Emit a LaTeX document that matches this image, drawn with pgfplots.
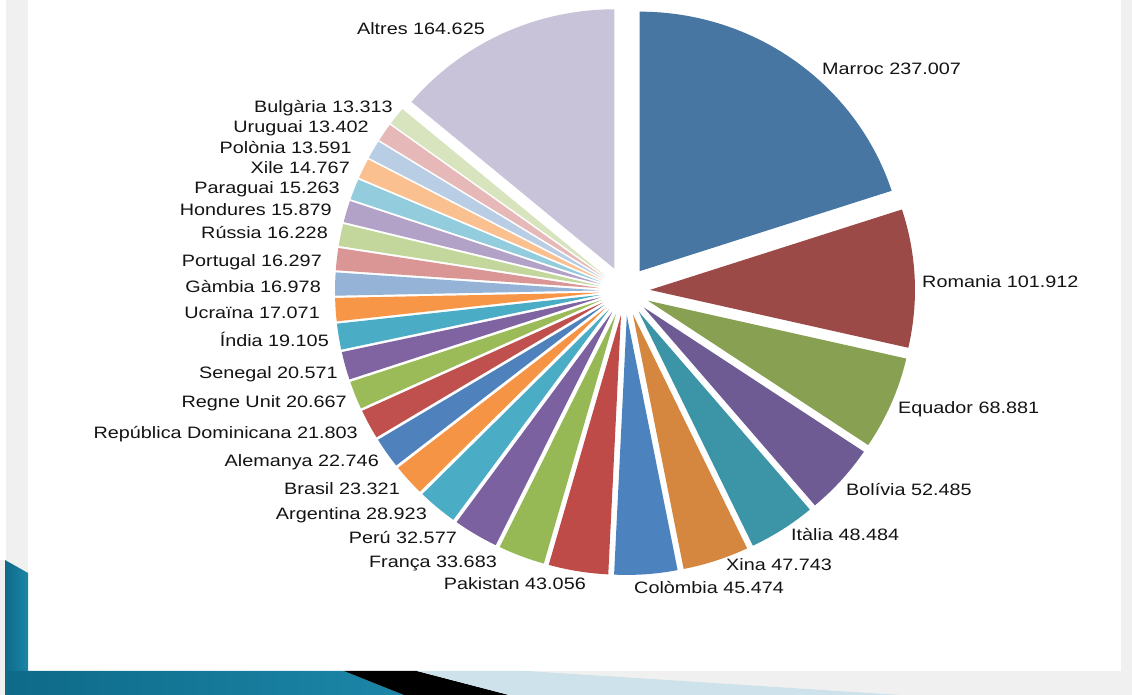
\documentclass[border=0pt]{standalone}
\usepackage{pgfplots}
\pgfplotsset{compat=1.18}
\usepackage{pgfplotstable}
\usepackage{graphicx}
\usepackage{fontspec}
\setmainfont{Liberation Sans}

\definecolor{c1}{HTML}{4676A1}
\definecolor{c2}{HTML}{9C4A47}
\definecolor{c3}{HTML}{87A052}
\definecolor{c4}{HTML}{6E5B94}
\definecolor{c5}{HTML}{3C95A6}
\definecolor{c6}{HTML}{D5873F}
\definecolor{c7}{HTML}{4C83BF}
\definecolor{c8}{HTML}{BE4B48}
\definecolor{c9}{HTML}{97B955}
\definecolor{c10}{HTML}{7C61A1}
\definecolor{c11}{HTML}{4AACC5}
\definecolor{c12}{HTML}{F59445}
\definecolor{c13}{HTML}{4F81BD}
\definecolor{c14}{HTML}{C0504D}
\definecolor{c15}{HTML}{9BBB59}
\definecolor{c16}{HTML}{8064A2}
\definecolor{c17}{HTML}{4BACC6}
\definecolor{c18}{HTML}{F79646}
\definecolor{c19}{HTML}{95B3D7}
\definecolor{c20}{HTML}{D99694}
\definecolor{c21}{HTML}{C3D69B}
\definecolor{c22}{HTML}{B3A2C7}
\definecolor{c23}{HTML}{93CDDD}
\definecolor{c24}{HTML}{FAC090}
\definecolor{c25}{HTML}{B9CDE5}
\definecolor{c26}{HTML}{E6B9B8}
\definecolor{c27}{HTML}{D7E4BD}
\definecolor{c28}{HTML}{C9C3DA}
\definecolor{bggray}{HTML}{F0F0F0}
\definecolor{labtext}{HTML}{141414}
\definecolor{tealdark}{HTML}{0E6A88}
\definecolor{teallight}{HTML}{5CBFDD}
\definecolor{tealmid}{HTML}{1C86A8}
\definecolor{paleblue}{HTML}{CDE2EA}

\newcommand{\lblfont}{\fontsize{16.5}{18}\selectfont}

% values in thousands of people, label position (picture px, y from top), anchor side
\pgfplotstableread[col sep=comma]{
name,val,col,lx,ly,anc
Marroc,237.007,c1,822,72,west
Romania,101.912,c2,922,285,west
Equador,68.881,c3,898,411,west
Bolívia,52.485,c4,846,493,west
Itàlia,48.484,c5,791,538,west
Xina,47.743,c6,726,568,west
Colòmbia,45.474,c7,634,591,west
Pakistan,43.056,c8,586,587,east
França,33.683,c9,497,565,east
Perú,32.577,c10,457,541,east
Argentina,28.923,c11,427,517,east
Brasil,23.321,c12,400,492,east
Alemanya,22.746,c13,379,464,east
República Dominicana,21.803,c14,358,436,east
Regne Unit,20.667,c15,347,405,east
Senegal,20.571,c16,338,376,east
Índia,19.105,c17,329,344,east
Ucraïna,17.071,c18,320,316,east
Gàmbia,16.978,c19,321,290,east
Portugal,16.297,c20,322,264,east
Rússia,16.228,c21,328,236,east
Hondures,15.879,c22,332,213,east
Paraguai,15.263,c23,340,191,east
Xile,14.767,c24,350,171,east
Polònia,13.591,c25,352,151,east
Uruguai,13.402,c26,369,130,east
Bulgària,13.313,c27,393,110,east
Altres,164.625,c28,485,32,east
}\piedata

\begin{document}
\begin{tikzpicture}
\begin{axis}[
  scale only axis, width=1132pt, height=695pt,
  xmin=0, xmax=1132, ymin=0, ymax=695,
  hide axis, clip=false]
% slide background
\fill[bggray] (axis cs:0,0) rectangle (axis cs:1132,695);
\fill[white] (axis cs:28,24) rectangle (axis cs:1121,695);
\fill[white] (axis cs:0,135) rectangle (axis cs:6,695);
\shade[left color=tealdark, right color=tealmid]
  (axis cs:5,135) -- (axis cs:28,122) -- (axis cs:28,24) -- (axis cs:5,24) -- cycle;
\shade[left color=tealdark, middle color=teallight, right color=tealmid]
  (axis cs:5,24) -- (axis cs:344,24) -- (axis cs:404,0) -- (axis cs:5,0) -- cycle;
\fill[black] (axis cs:344,24) -- (axis cs:417,24) -- (axis cs:509,0) -- (axis cs:404,0) -- cycle;
\fill[paleblue] (axis cs:417,24) -- (axis cs:527,24) -- (axis cs:900,0) -- (axis cs:509,0) -- cycle;

\pgfplotstablegetrowsof{\piedata}
\pgfmathtruncatemacro{\slN}{\pgfplotsretval-1}
\gdef\sltotal{0}
\foreach \i in {0,...,\slN}{%
  \pgfplotstablegetelem{\i}{val}\of\piedata
  \pgfmathsetmacro{\sltmp}{\sltotal+\pgfplotsretval}%
  \global\let\sltotal\sltmp
}
\gdef\slcum{0}
\foreach \i in {0,...,\slN}{%
  \pgfplotstablegetelem{\i}{val}\of\piedata \let\slval\pgfplotsretval
  \pgfplotstablegetelem{\i}{col}\of\piedata \let\slcol\pgfplotsretval
  \pgfplotstablegetelem{\i}{name}\of\piedata \let\slname\pgfplotsretval
  \pgfplotstablegetelem{\i}{lx}\of\piedata \let\sllx\pgfplotsretval
  \pgfplotstablegetelem{\i}{ly}\of\piedata \let\slly\pgfplotsretval
  \pgfplotstablegetelem{\i}{anc}\of\piedata \let\slanc\pgfplotsretval
  \pgfmathsetmacro{\slfa}{\slcum/\sltotal}%
  \pgfmathsetmacro{\slaA}{90-360*\slfa}%
  \pgfmathsetmacro{\slnew}{\slcum+\slval}%
  \global\let\slcum\slnew
  \pgfmathsetmacro{\slfb}{\slcum/\sltotal}%
  \pgfmathsetmacro{\slaB}{90-360*\slfb}%
  \pgfmathsetmacro{\slam}{(\slaA+\slaB)/2}%
  \pgfmathsetmacro{\slvx}{625+25*cos(\slam)}%
  \pgfmathsetmacro{\slvy}{404+24.5*sin(\slam)}%
  \pgfmathsetmacro{\slsx}{\slvx+265*cos(\slaA)}%
  \pgfmathsetmacro{\slsy}{\slvy+259.5*sin(\slaA)}%
  \pgfmathsetmacro{\sllyy}{695-\slly}%
  \edef\sltemp{\noexpand\fill[\slcol] (axis cs:\slvx,\slvy) -- (axis cs:\slsx,\slsy)
     arc[start angle=\slaA, end angle=\slaB, x radius=265pt, y radius=259.5pt] -- cycle;
     \noexpand\node[anchor=mid \slanc, inner sep=0pt, text=labtext, font=\noexpand\lblfont]
     at (axis cs:\sllx,\sllyy) {\noexpand\scalebox{1.2}[1]{\slname\space\slval}};}%
  \sltemp
}
\end{axis}
\end{tikzpicture}
\end{document}
